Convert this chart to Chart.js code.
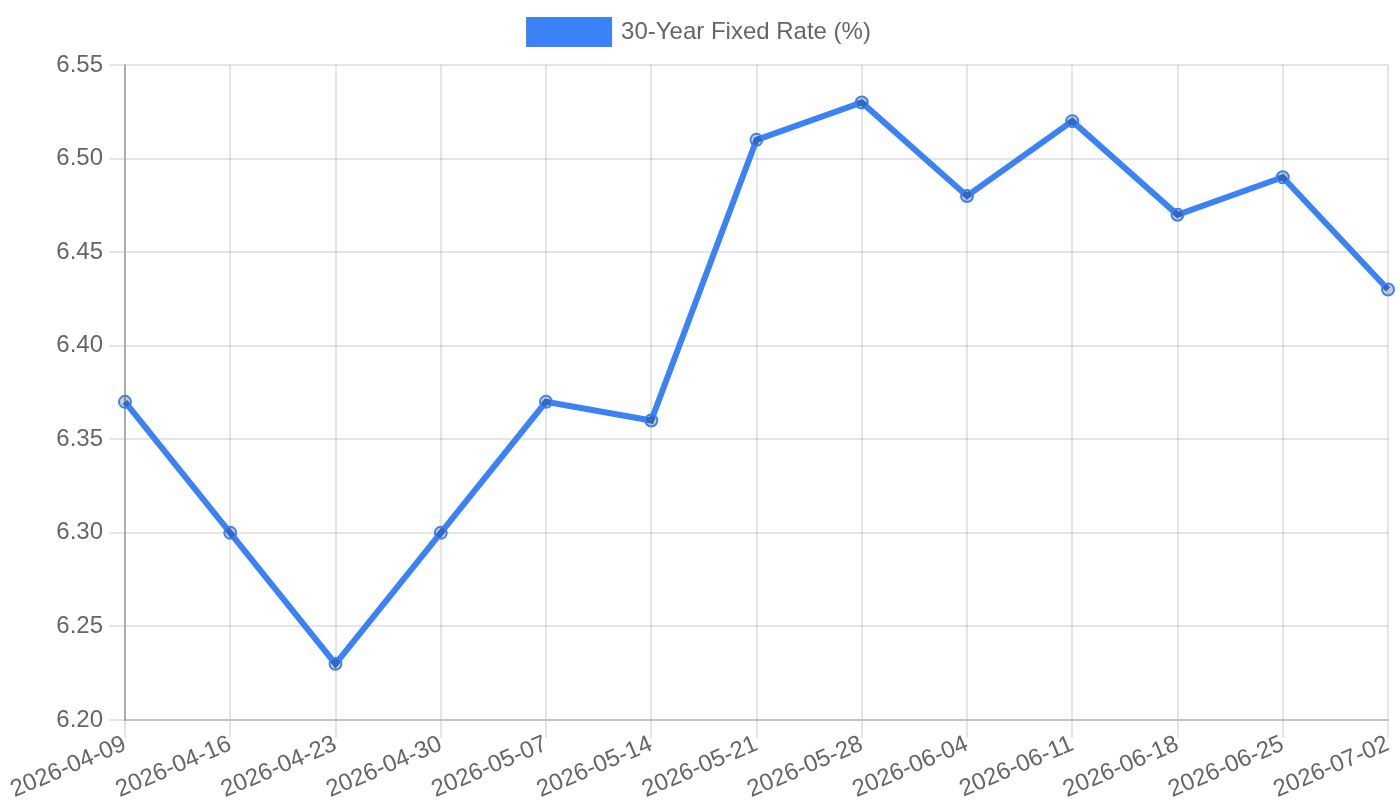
<!DOCTYPE html>
<html>
<head>
<meta charset="utf-8">
<script src="https://cdn.jsdelivr.net/npm/chart.js@4"></script>
<style>
  html, body { margin: 0; padding: 0; background: #fff; }
  #wrap { width: 1400px; height: 800px; }
</style>
</head>
<body>
<div id="wrap"><canvas id="rate-chart"></canvas></div>
<script>
const weeks = ['2026-04-09', '2026-04-16', '2026-04-23', '2026-04-30', '2026-05-07', '2026-05-14', '2026-05-21',
    '2026-05-28', '2026-06-04', '2026-06-11', '2026-06-18', '2026-06-25', '2026-07-02'];
const rates = [6.37, 6.30, 6.23, 6.30, 6.37, 6.36, 6.51, 6.53, 6.48, 6.52, 6.47, 6.49, 6.43];
const seriesLabel = '30-Year Fixed Rate (%)';

Chart.defaults.font.family = '"Liberation Sans", Arial, sans-serif';
Chart.defaults.font.size = 24;
Chart.defaults.color = '#666';

// a bit more room under the legend
const legendGap = {
    id: 'legendGap',
    beforeInit(chart) {
        const fit = chart.legend.fit;
        chart.legend.fit = function () {
            fit.call(this);
            this.height += 11;
        };
    }
};

new Chart(document.getElementById('rate-chart'), {
    type: 'line',
    data: {
        labels: weeks,
        datasets: [{
            label: seriesLabel,
            data: rates,
            borderColor: '#3b82f6',
            backgroundColor: '#3b82f6',
            borderWidth: 6,
            pointRadius: 6,
            pointBorderWidth: 2,
            pointBackgroundColor: 'rgba(0, 0, 0, 0.2)',
            tension: 0,
            fill: false
        }]
    },
    options: {
        responsive: true,
        maintainAspectRatio: false,
        animation: false,
        plugins: {
            legend: {
                labels: { boxWidth: 80, padding: 20 }
            },
            tooltip: { enabled: false }
        },
        scales: {
            x: {
                ticks: { padding: -8, minRotation: 23, maxRotation: 23 },
                grid: { color: 'rgba(0, 0, 0, 0.1)', lineWidth: 2, tickLength: 18 },
                border: { color: 'rgba(0, 0, 0, 0.15)', width: 2 },
                afterFit: scale => {
                    scale.height = 80;
                    scale.paddingRight = 12;
                }
            },
            y: {
                min: 6.20,
                max: 6.55,
                ticks: {
                    stepSize: 0.05,
                    padding: 6,
                    callback: v => v.toFixed(2)
                },
                grid: { color: 'rgba(0, 0, 0, 0.1)', lineWidth: 2, tickLength: 16 },
                border: { color: 'rgba(0, 0, 0, 0.25)', width: 2 },
                afterFit: scale => { scale.width = 125; }
            }
        }
    },
    plugins: [legendGap]
});
</script>
</body>
</html>
